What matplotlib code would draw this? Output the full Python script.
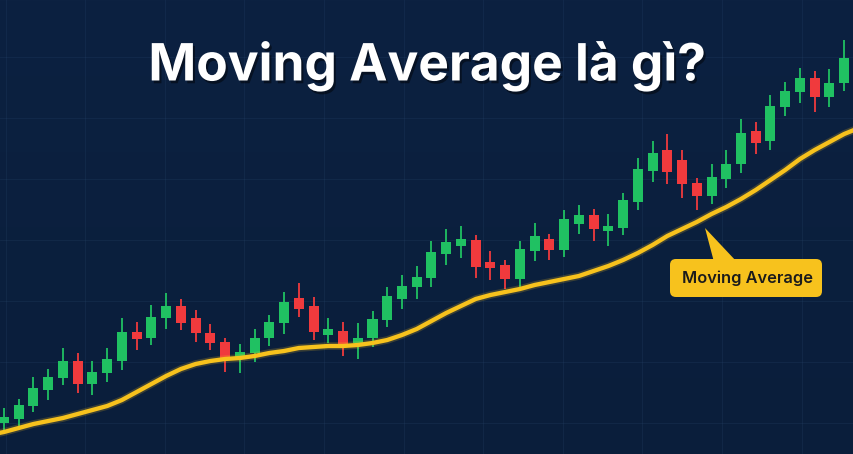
import numpy as np
import matplotlib
matplotlib.use("Agg")
import matplotlib.pyplot as plt
import matplotlib.patheffects as pe
from matplotlib.patches import FancyBboxPatch, Polygon

# candle data (price units = pixels above the bottom edge of the picture)
opens = [31, 35, 48, 64, 76, 93, 70, 81, 93, 122, 116, 136, 148, 136, 121, 112,
         95, 101, 116, 131, 156, 148, 119, 123, 111, 116, 134, 155, 167, 176,
         200, 208, 214, 192, 189, 175, 203, 215, 204, 230, 239, 223, 226, 252,
         283, 304, 294, 271, 258, 275, 290, 323, 313, 347, 362, 376, 357, 371]
closes = [37, 49, 66, 77, 93, 70, 82, 95, 122, 115, 137, 148, 131, 121, 111, 95,
          102, 116, 132, 152, 145, 122, 125, 110, 116, 135, 158, 168, 177, 202,
          212, 215, 187, 186, 175, 205, 218, 204, 235, 239, 225, 228, 254, 285,
          301, 282, 270, 258, 277, 290, 321, 311, 348, 363, 376, 357, 371, 396]
highs = [46, 55, 77, 85, 106, 101, 93, 106, 136, 132, 149, 161, 155, 144, 130, 116,
         110, 125, 139, 162, 171, 157, 136, 132, 131, 143, 167, 179, 188, 213,
         225, 228, 219, 203, 194, 213, 231, 220, 244, 249, 245, 240, 261, 296,
         313, 320, 304, 276, 290, 304, 335, 332, 359, 372, 386, 383, 385, 414]
lows = [24, 27, 42, 54, 69, 61, 59, 72, 84, 104, 109, 125, 124, 112, 104, 82,
        81, 92, 108, 120, 137, 114, 111, 98, 95, 107, 127, 145, 155, 167,
        189, 196, 176, 174, 165, 167, 193, 194, 197, 220, 213, 208, 219, 244,
        272, 270, 256, 244, 250, 266, 281, 300, 304, 338, 351, 342, 347, 363]

# moving average line, read at candle positions (one extra point each side)
ma_idx = list(range(-1, 59))
ma_vals = [19, 22, 26, 30, 33, 36, 40, 44, 48, 54, 62, 70, 78, 85, 90, 93, 95,
           96, 98, 101, 103, 106, 107, 108, 108, 109, 111, 114, 119, 125, 133,
           141, 148, 155, 159, 162, 165, 169, 172, 175, 178, 183, 188, 194, 201,
           209, 218, 225, 232, 240, 247, 255, 264, 274, 284, 295, 304, 312, 320, 326]

title = "Moving Average là gì?"
ma_label = "Moving Average"

GREEN = "#20c162"
RED = "#f03a3d"
YELLOW = "#f7c21d"

plt.rcParams["font.family"] = ["Inter", "DejaVu Sans"]

fig = plt.figure(figsize=(8.54, 4.54), dpi=100)
ax = fig.add_axes([0, 0, 1, 1])

step = 14.74


def px(x):
    # picture x (pixels) -> candle index
    return (x - 4) / step


x_left, x_right = px(0), px(854)
ax.set_xlim(x_left, x_right)
ax.set_ylim(0, 454)
ax.axis("off")

# background gradient
top = np.array([12, 33, 65]) / 255
bot = np.array([10, 30, 59]) / 255
t = np.linspace(0, 1, 256)[:, None]
grad = top[None, :] * (1 - t) + bot[None, :] * t
grad = np.repeat(grad[:, None, :], 2, axis=1)
ax.imshow(grad, extent=[x_left, x_right, 0, 454], aspect="auto", zorder=0)

# faint grid
for gx in np.arange(5.5, 854, 79.6):
    ax.axvline(px(gx), color="#2c4a70", lw=0.6, alpha=0.25, zorder=1)
for gy in np.arange(31, 454, 61):
    ax.axhline(gy, color="#2c4a70", lw=0.6, alpha=0.25, zorder=1)

# candles
for i, (o, c, h, l) in enumerate(zip(opens, closes, highs, lows)):
    col = GREEN if c >= o else RED
    ax.vlines(i, l, h, color=col, lw=1.3, zorder=3)
    ax.bar(i, abs(c - o), bottom=min(o, c), width=0.68, color=col,
           edgecolor="none", zorder=4)

# moving average
ax.plot(ma_idx, ma_vals, color=YELLOW, lw=3.1, solid_capstyle="round",
        solid_joinstyle="round", zorder=5,
        path_effects=[pe.Stroke(linewidth=5.5, foreground=YELLOW, alpha=0.2), pe.Normal()])

# label with pointer
pointer = Polygon([(px(705), 454 - 228), (px(714), 454 - 262), (px(737), 454 - 262)],
                  closed=True, facecolor=YELLOW, edgecolor="none", zorder=6)
ax.add_patch(pointer)
ax.add_patch(FancyBboxPatch((px(670), 157), px(822) - px(670), 38,
                            boxstyle="round,pad=0,rounding_size=0.4",
                            mutation_aspect=step,
                            facecolor=YELLOW, edgecolor="none", zorder=6))
ax.text(px(747), 176, ma_label, ha="center", va="center", fontsize=11.8,
        fontweight="semibold", color="#1b1b1b", zorder=7)

# title
fig.text(0.5, 1 - 66 / 454, title, ha="center", va="center", fontsize=37,
         fontweight="bold", color="white",
         path_effects=[pe.withSimplePatchShadow(offset=(1.5, -2), shadow_rgbFace="black", alpha=0.45)])

fig.savefig("out.png", dpi=100)
